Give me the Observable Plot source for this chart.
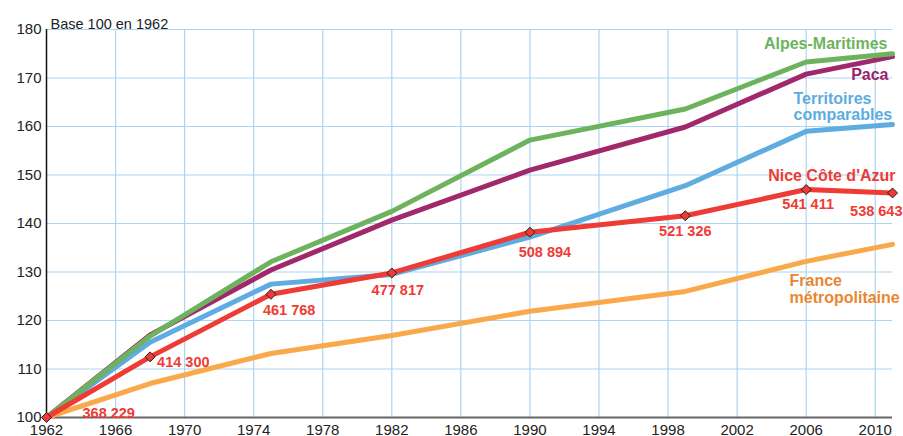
<!DOCTYPE html>
<html>
<head>
<meta charset="utf-8">
<script src="https://cdn.jsdelivr.net/npm/d3@7"></script>
<script src="https://cdn.jsdelivr.net/npm/@observablehq/plot@0.6"></script>
<style>
  html, body { margin: 0; padding: 0; background: #fff; }
  #chart svg { display: block; }
</style>
</head>
<body>
<div id="chart"></div>
<script>
// ---- Data (index, base 100 in 1962) ----
const years = [1962, 1968, 1975, 1982, 1990, 1999, 2006, 2011];
const alpesMaritimes = [100, 116.8, 132.1, 142.5, 157.2, 163.6, 173.3, 175.0];
const paca = [100, 117.0, 130.4, 140.7, 151.0, 159.9, 170.8, 174.4];
const territoires = [100, 115.5, 127.5, 129.5, 137.2, 147.8, 159.0, 160.4];
const niceCoteAzur = [100, 112.5, 125.4, 129.8, 138.2, 141.6, 147.0, 146.3];
const franceMetro = [100, 107.0, 113.2, 116.9, 121.9, 126.0, 132.2, 135.7];
const nicePopLabels = ["368 229", "414 300", "461 768", "477 817", "508 894", "521 326", "541 411", "538 643"];

const seriesNames = ["France métropolitaine", "Territoires comparables", "Paca", "Alpes-Maritimes", "Nice Côte d'Azur"];
const seriesLabels = ["France\nmétropolitaine", "Territoires\ncomparables", "Paca", "Alpes-Maritimes", "Nice Côte d'Azur"];
const seriesValues = [franceMetro, territoires, paca, alpesMaritimes, niceCoteAzur];

const xTicks = [1962, 1966, 1970, 1974, 1978, 1982, 1986, 1990, 1994, 1998, 2002, 2006, 2010];
const yTicks = [100, 110, 120, 130, 140, 150, 160, 170, 180];
const yLabel = "Base 100 en 1962";

// ---- styling (not data) ----
const lineColors = {
  "France métropolitaine": "#f9a84a",
  "Territoires comparables": "#5eace0",
  "Paca": "#a1286a",
  "Alpes-Maritimes": "#6db35e",
  "Nice Côte d'Azur": "#ee3b36"
};
const textColors = {
  "France métropolitaine": "#ea8530",
  "Territoires comparables": "#5eace0",
  "Paca": "#9c1f6b",
  "Alpes-Maritimes": "#6db35e",
  "Nice Côte d'Azur": "#ee3b36"
};
// label layout offsets relative to the last (2011) point of each series
const seriesLabelLayout = {
  "France métropolitaine": {textAnchor: "start", dx: -103, dy: 45},
  "Territoires comparables": {textAnchor: "start", dx: -99, dy: -18},
  "Paca": {textAnchor: "end", dx: -4, dy: 18},
  "Alpes-Maritimes": {textAnchor: "end", dx: -5, dy: -10},
  "Nice Côte d'Azur": {textAnchor: "end", dx: 3, dy: -17}
};
// population label offsets relative to each Nice point
const popLabelLayout = [
  {textAnchor: "start", dx: 36, dy: -4},
  {textAnchor: "start", dx: 7, dy: 5},
  {textAnchor: "start", dx: -8, dy: 16},
  {textAnchor: "middle", dx: 6, dy: 17},
  {textAnchor: "middle", dx: 15, dy: 20},
  {textAnchor: "middle", dx: 0, dy: 16},
  {textAnchor: "middle", dx: 2, dy: 15},
  {textAnchor: "end", dx: 10, dy: 18}
];

const rows = [];
seriesNames.forEach((name, i) => {
  years.forEach((yr, j) => rows.push({series: name, year: yr, value: seriesValues[i][j]}));
});
const niceRows = years.map((yr, j) => ({year: yr, value: niceCoteAzur[j], label: nicePopLabels[j]}));
const lastRows = seriesNames.map((name, i) => ({
  series: name, label: seriesLabels[i], year: years[years.length - 1], value: seriesValues[i][years.length - 1]
}));

const font = "'Liberation Sans', Arial, Helvetica, sans-serif";

const marks = [
  Plot.gridX(xTicks.filter(d => d > 1962), {stroke: "#abd5f1", strokeOpacity: 1, strokeWidth: 1.2}),
  Plot.gridY(yTicks.filter(d => d > 100), {stroke: "#abd5f1", strokeOpacity: 1, strokeWidth: 1.2}),
  Plot.ruleY([100], {stroke: "#666", strokeWidth: 2}),
  Plot.ruleX([1962], {stroke: "#111", strokeWidth: 1.5}),
  Plot.axisX({ticks: xTicks, tickSize: 0, tickPadding: 7, tickFormat: d => String(d), fontSize: 15, fill: "#222", label: null}),
  Plot.axisY({ticks: yTicks, tickSize: 0, tickPadding: 5, fontSize: 15, fill: "#222", label: null}),
  Plot.text([yLabel], {frameAnchor: "top-left", text: d => d, textAnchor: "start", dx: 4, dy: -11, fontSize: 14.5, fill: "#222"}),
  Plot.line(rows, {
    x: "year", y: "value", z: "series",
    stroke: d => lineColors[d.series],
    strokeWidth: 5, strokeLinejoin: "round", strokeLinecap: "round"
  }),
  Plot.dot(niceRows, {x: "year", y: "value", symbol: "diamond2", r: 4.5, fill: "#ee3b36", stroke: "#222", strokeWidth: 1})
];

niceRows.forEach((d, j) => {
  marks.push(Plot.text([d], {
    x: "year", y: "value", text: "label",
    fill: "#ee3b36", fontWeight: "bold", fontSize: 14.5,
    ...popLabelLayout[j]
  }));
});
lastRows.forEach(d => {
  marks.push(Plot.text([d], {
    x: "year", y: "value", text: "label",
    fill: textColors[d.series], fontWeight: "bold", fontSize: 16, lineHeight: 1.06,
    ...seriesLabelLayout[d.series]
  }));
});

const chart = Plot.plot({
  width: 903,
  height: 436,
  marginLeft: 46,
  marginRight: 11,
  marginTop: 29,
  marginBottom: 19,
  style: {fontFamily: font, fontSize: "15px", color: "#222", background: "#fff", overflow: "visible"},
  x: {domain: [1962, 2011]},
  y: {domain: [100, 180]},
  marks
});
document.getElementById("chart").appendChild(chart);
</script>
</body>
</html>
